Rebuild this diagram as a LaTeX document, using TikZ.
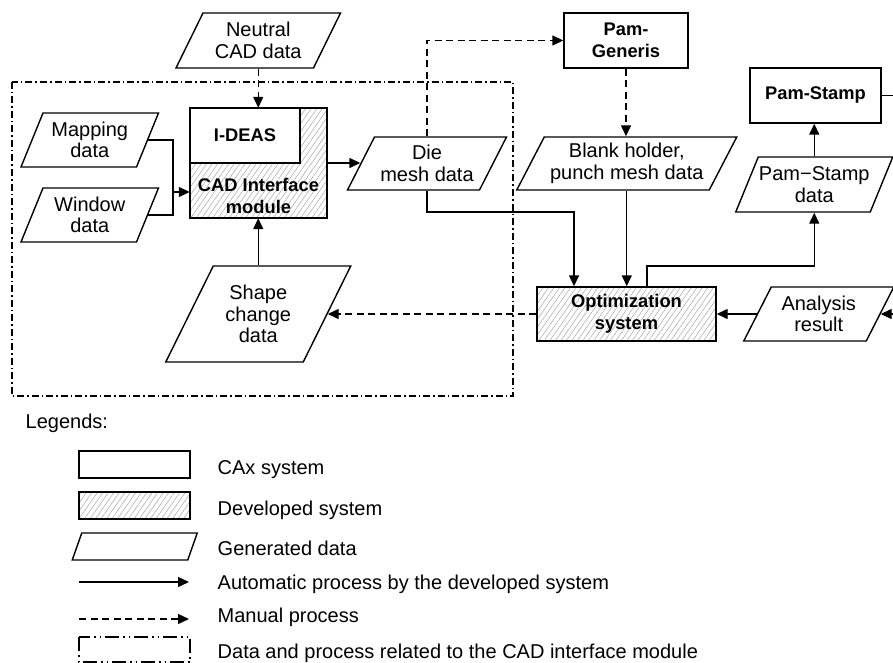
\documentclass[tikz,border=0pt]{standalone}
\usepackage{fontspec}
\setmainfont{Liberation Sans}
\usetikzlibrary{arrows.meta,patterns.meta}
\newcommand\mypara[7]{% name, cx, cy, w, h, slant, text
  \node[txt, minimum width=#4pt, minimum height=#5pt, inner sep=0pt] (#1) at (#2,#3) {#7};
  \draw[line join=miter] (#2-#4/2-#6/2, #3+#5/2) -- (#2-#4/2+#6/2, #3-#5/2) -- (#2+#4/2+#6/2, #3-#5/2) -- (#2+#4/2-#6/2, #3+#5/2) -- cycle;
}
\begin{document}
\begin{tikzpicture}[x=1pt,y=-1pt, line width=1.4pt,
  txt/.style={font=\fontsize{20}{21.5}\selectfont, align=center},
  btxt/.style={font=\fontsize{18.3}{21.5}\selectfont\bfseries, align=center},
  ltxt/.style={font=\fontsize{20}{21.5}\selectfont, anchor=base west, inner sep=0pt},
  box/.style={draw, minimum width=#1, inner sep=0pt},
  arr/.style={-{Triangle[length=11pt,width=10pt]}},
  dsh/.style={dash pattern=on 7pt off 4.5pt},
  dashdot/.style={dash pattern=on 7pt off 3pt on 1.5pt off 3pt},
  hatch/.style={pattern={Lines[angle=55,distance=4.5pt,line width=0.45pt]}, pattern color=gray!75},
]
\useasboundingbox (0,0) rectangle (893,663);

% frame of CAD interface module
\draw[dashdot] (12,82) rectangle (513,396);

% CAD interface block
\node[box=137pt, minimum height=110pt, hatch] (cad) at (258.5,163) {};
\node[box=110pt, minimum height=55pt, fill=white, btxt] (ideas) at (245,135.5) {I-DEAS};
\node[btxt, inner sep=0pt] (cadtxt) at (258.5,196) {CAD Interface\\module};

% data parallelograms
\mypara{neutral}{258.25}{40.5}{137.5}{55}{27}{Neutral\\CAD data}
\mypara{mapping}{89.75}{140}{115.5}{54}{22}{Mapping\\data}
\mypara{window}{89.75}{215}{115.5}{54}{22}{Window\\data}
\mypara{die}{427}{163.5}{132}{53}{27}{Die\\mesh data}
\mypara{blank}{626.75}{163.5}{192.5}{53}{27.5}{Blank holder,\\punch mesh data}
\mypara{pamsd}{814.25}{184.5}{134.5}{55}{22.5}{Pam−Stamp\\data}
\mypara{analysis}{818.75}{314}{122.5}{54}{27.5}{Analysis\\result}
\mypara{shape}{258.25}{314}{137.5}{96}{47.5}{Shape\\change\\data}

% system boxes
\node[box=124pt, minimum height=55pt, btxt] (pamgen) at (626,40.5) {Pam-\\Generis};
\node[box=131pt, minimum height=55pt, btxt] (pamstamp) at (815.5,95.5) {Pam-Stamp};
\node[box=179pt, minimum height=54pt, hatch, btxt] (opt) at (626.5,314) {Optimization\\system};

% connectors
\coordinate (jn) at (173,192);
\coordinate (c1) at (574,212);
\coordinate (c2) at (647,266);
\coordinate (rt1) at (893,95.5);
\coordinate (rt2) at (893,314);

\draw[arr,dsh] (neutral.south) -- (neutral.south |- cad.north);
\draw (mapping.east) -| (jn);
\draw (window.east) -| (jn);
\draw[arr] (jn) -- (jn -| cad.west);
\draw[arr] (cad.east) -- (cad.east -| die.west);
\draw[arr,dsh] (die.north) |- (pamgen.west);
\draw[arr,dsh] (pamgen.south) -- (pamgen.south |- blank.north);
\draw[arr] (die.south) |- (c1) -- (c1 |- opt.north);
\draw[arr] (blank.south) -- (blank.south |- opt.north);
\draw[arr] (c2 |- opt.north) -- (c2) -- (c2 -| pamsd.south) -- (pamsd.south);
\draw[arr] (pamsd.north) -- (pamsd.north |- pamstamp.south);
\draw (pamstamp.east) -- (rt1);
\draw[arr] (rt2) -- (analysis.east);
\draw[arr] (analysis.west) -- (opt.east);
\draw[arr,dsh] (opt.west) -- (shape.east);
\draw[arr] (shape.north) -- (shape.north |- cad.south);

% legend
\node[ltxt] (leg) at (25,428) {Legends:};
\node[box=111pt, minimum height=27pt] (lcax) at (134.5,464.5) {};
\node[ltxt] (lt1) at (217,474) {CAx system};
\node[box=111pt, minimum height=27pt, hatch] (ldev) at (134.5,505.5) {};
\node[ltxt] (lt2) at (217,515) {Developed system};
\mypara{lpara}{134.75}{546.5}{115.5}{27}{9.5}{}
\node[ltxt] (lt3) at (217,555) {Generated data};
\coordinate (la1) at (79,582);
\coordinate (la2) at (189,582);
\draw[arr] (la1) -- (la2);
\node[ltxt] (lt4) at (217,589) {Automatic process by the developed system};
\coordinate (lb1) at (79,619);
\coordinate (lb2) at (189,619);
\draw[arr,dsh] (lb1) -- (lb2);
\node[ltxt] (lt5) at (217,622) {Manual process};
\draw[dash pattern=on 14pt off 4pt on 1.5pt off 4pt on 1.5pt off 4pt] (79,637) rectangle (190,662);
\node[ltxt] (lt6) at (217,658) {Data and process related to the CAD interface module};
\end{tikzpicture}
\end{document}
